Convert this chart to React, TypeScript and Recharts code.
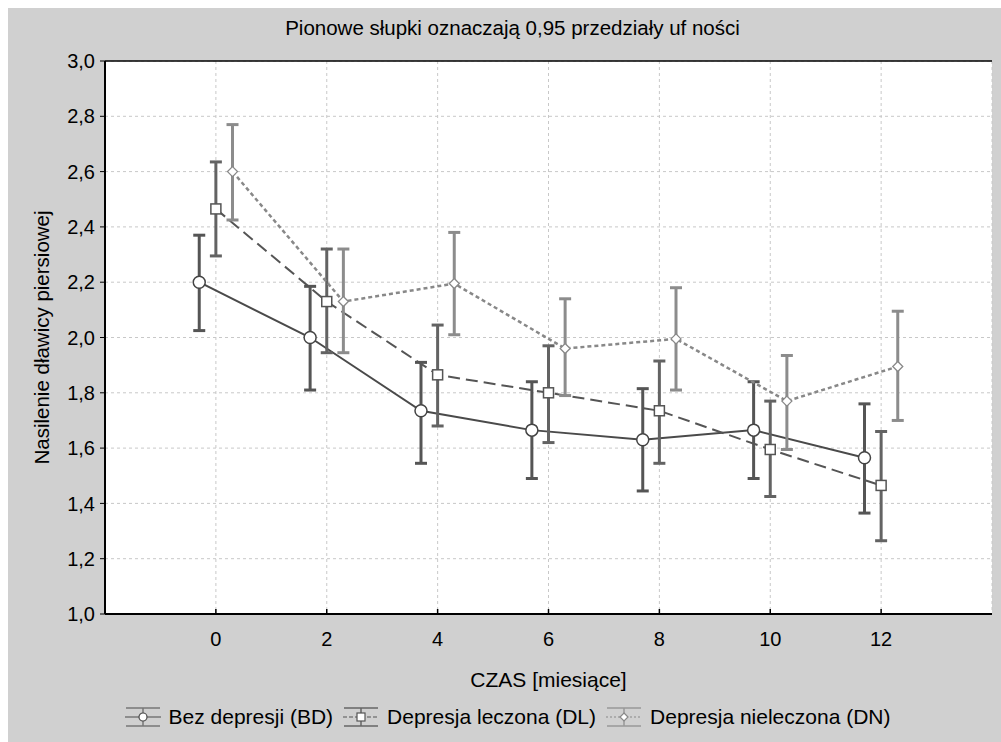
import React from "react"
import { ComposedChart, Line, ErrorBar, XAxis, YAxis, CartesianGrid, ReferenceLine, Legend } from "recharts"

// miesiące obserwacji
const times = [0, 2, 4, 6, 8, 10, 12]
const xTicks = [0, 2, 4, 6, 8, 10, 12]
const yTicks = [1.0, 1.2, 1.4, 1.6, 1.8, 2.0, 2.2, 2.4, 2.6, 2.8, 3.0]

// Bez depresji (BD)
const bdMean = [2.2, 2.0, 1.735, 1.665, 1.63, 1.665, 1.565]
const bdLow = [2.025, 1.81, 1.545, 1.49, 1.445, 1.49, 1.365]
const bdHigh = [2.37, 2.185, 1.91, 1.84, 1.815, 1.84, 1.76]

// Depresja leczona (DL)
const dlMean = [2.465, 2.13, 1.865, 1.8, 1.735, 1.595, 1.465]
const dlLow = [2.295, 1.945, 1.68, 1.62, 1.545, 1.425, 1.265]
const dlHigh = [2.635, 2.32, 2.045, 1.97, 1.915, 1.77, 1.66]

// Depresja nieleczona (DN)
const dnMean = [2.6, 2.13, 2.195, 1.96, 1.995, 1.77, 1.895]
const dnLow = [2.425, 1.945, 2.01, 1.79, 1.81, 1.595, 1.7]
const dnHigh = [2.77, 2.32, 2.38, 2.14, 2.18, 1.935, 2.095]

const FONT = '"Liberation Sans", Arial, sans-serif'

function buildSeries(mean: number[], low: number[], high: number[], shift: number) {
  return times.map((t, i) => ({
    x: t + shift,
    y: mean[i],
    err: [mean[i] - low[i], high[i] - mean[i]],
  }))
}

const bdData = buildSeries(bdMean, bdLow, bdHigh, -0.3)
const dlData = buildSeries(dlMean, dlLow, dlHigh, 0)
const dnData = buildSeries(dnMean, dnLow, dnHigh, 0.3)

const CircleDot = (p: any) => (
  <circle key={`c-${p.index}`} cx={p.cx} cy={p.cy} r={6} fill="#fff" stroke="#444" strokeWidth={1.5} />
)
const SquareDot = (p: any) => (
  <rect key={`s-${p.index}`} x={p.cx - 5} y={p.cy - 5} width={10} height={10} fill="#fff" stroke="#555" strokeWidth={1.5} />
)
const DiamondDot = (p: any) => (
  <polygon
    key={`d-${p.index}`}
    points={`${p.cx},${p.cy - 5} ${p.cx + 5},${p.cy} ${p.cx},${p.cy + 5} ${p.cx - 5},${p.cy}`}
    fill="#fff"
    stroke="#888"
    strokeWidth={1.3}
  />
)

const legendItems = [
  { name: "Bez depresji (BD)", line: "#4a4a4a", bar: "#777", dash: undefined, marker: "circle" },
  { name: "Depresja leczona (DL)", line: "#555", bar: "#666", dash: "4 2", marker: "square" },
  { name: "Depresja nieleczona (DN)", line: "#888", bar: "#999", dash: "2 2", marker: "diamond" },
]

function LegendIcon({ item }: { item: (typeof legendItems)[number] }) {
  return (
    <svg width={36} height={22} style={{ marginRight: 8 }}>
      <line x1={1} y1={2} x2={35} y2={2} stroke={item.bar} strokeWidth={1.5} />
      <line x1={1} y1={20} x2={35} y2={20} stroke={item.bar} strokeWidth={1.5} />
      <line x1={18} y1={2} x2={18} y2={20} stroke={item.bar} strokeWidth={1.5} />
      <line x1={0} y1={11} x2={36} y2={11} stroke={item.line} strokeWidth={1.2} strokeDasharray={item.dash} />
      {item.marker === "circle" && <circle cx={18} cy={11} r={4} fill="#fff" stroke={item.line} strokeWidth={1.2} />}
      {item.marker === "square" && <rect x={14} y={7} width={8} height={8} fill="#fff" stroke={item.line} strokeWidth={1.2} />}
      {item.marker === "diamond" && (
        <polygon points="18,7 22,11 18,15 14,11" fill="#fff" stroke={item.line} strokeWidth={1.2} />
      )}
    </svg>
  )
}

const renderLegend = () => (
  <div style={{ display: "flex", justifyContent: "center", alignItems: "center", height: 30, paddingLeft: 25, fontFamily: FONT, fontSize: 21, color: "#000" }}>
    {legendItems.map((it) => (
      <div key={it.name} style={{ display: "flex", alignItems: "center", marginRight: 10 }}>
        <LegendIcon item={it} />
        <span>{it.name}</span>
      </div>
    ))}
  </div>
)

const YLabel = (props: any) => {
  const vb = props.viewBox || {}
  const cy = vb.y + vb.height / 2
  return (
    <text x={33} y={cy} transform={`rotate(-90, 33, ${cy})`} textAnchor="middle" dominantBaseline="central" fontFamily={FONT} fontSize={20.5} fill="#000">
      Nasilenie dławicy piersiowej
    </text>
  )
}

const XLabel = (props: any) => {
  const vb = props.viewBox || {}
  return (
    <text x={vb.x + vb.width / 2} y={vb.y + 73} textAnchor="middle" fontFamily={FONT} fontSize={21} fill="#000">
      CZAS [miesiące]
    </text>
  )
}

const XTick = (props: any) => {
  const { x, y, payload } = props
  return (
    <g>
      <line x1={x} y1={y - 16} x2={x} y2={y - 21} stroke="#000" strokeWidth={1.5} />
      <text x={x} y={y} dy={16} textAnchor="middle" fontFamily={FONT} fontSize={20} fill="#000">
        {payload.value}
      </text>
    </g>
  )
}

const fmt = (v: number) => v.toFixed(1).replace(".", ",")

export default function App() {
  return (
    <div style={{ position: "absolute", left: 8, top: 8, width: 993, height: 734, background: "#d0d0d0", overflow: "hidden" }}>
      <div style={{ position: "absolute", top: 8, left: 16, width: 977, textAlign: "center", fontFamily: FONT, fontSize: 20.5, lineHeight: "24px", color: "#000" }}>
        Pionowe słupki oznaczają 0,95 przedziały uf ności
      </div>
      <ComposedChart width={993} height={734} margin={{ top: 53, right: 9, left: 0, bottom: 10 }}>
        <CartesianGrid strokeDasharray="3 3" stroke="#c8c8c8" fill="#fff" />
        <XAxis
          dataKey="x"
          type="number"
          domain={[-2, 14]}
          ticks={xTicks}
          height={88}
          tickSize={0}
          tickMargin={16}
          tickLine={false}
          tick={<XTick />}
          axisLine={{ stroke: "#000", strokeWidth: 2 }}
          label={<XLabel />}
        />
        <YAxis
          type="number"
          domain={[1, 3]}
          ticks={yTicks}
          width={97}
          tickSize={5}
          tickMargin={5}
          tickFormatter={fmt}
          tick={{ fill: "#000", fontSize: 20, fontFamily: FONT }}
          tickLine={{ stroke: "#000" }}
          axisLine={{ stroke: "#000", strokeWidth: 2 }}
          label={<YLabel />}
        />
        <YAxis
          yAxisId="right"
          orientation="right"
          type="number"
          domain={[1, 3]}
          ticks={yTicks}
          width={0}
          mirror
          tick={false}
          tickSize={6}
          tickLine={{ stroke: "#000", strokeWidth: 1.5 }}
          axisLine={{ stroke: "#000", strokeWidth: 3 }}
        />
        <ReferenceLine y={3} stroke="#000" strokeWidth={1.5} />
        <Line data={bdData} dataKey="y" type="linear" stroke="#4a4a4a" strokeWidth={2} dot={CircleDot} activeDot={false} isAnimationActive={false} legendType="none">
          <ErrorBar dataKey="err" direction="y" width={6} stroke="#555" strokeWidth={3} />
        </Line>
        <Line data={dlData} dataKey="y" type="linear" stroke="#555" strokeWidth={2} strokeDasharray="12 6" dot={SquareDot} activeDot={false} isAnimationActive={false} legendType="none">
          <ErrorBar dataKey="err" direction="y" width={6} stroke="#636363" strokeWidth={3} />
        </Line>
        <Line data={dnData} dataKey="y" type="linear" stroke="#888" strokeWidth={2.5} strokeDasharray="4 3" dot={DiamondDot} activeDot={false} isAnimationActive={false} legendType="none">
          <ErrorBar dataKey="err" direction="y" width={6} stroke="#8c8c8c" strokeWidth={3} />
        </Line>
        <Legend verticalAlign="bottom" height={30} content={renderLegend} />
      </ComposedChart>
    </div>
  )
}
